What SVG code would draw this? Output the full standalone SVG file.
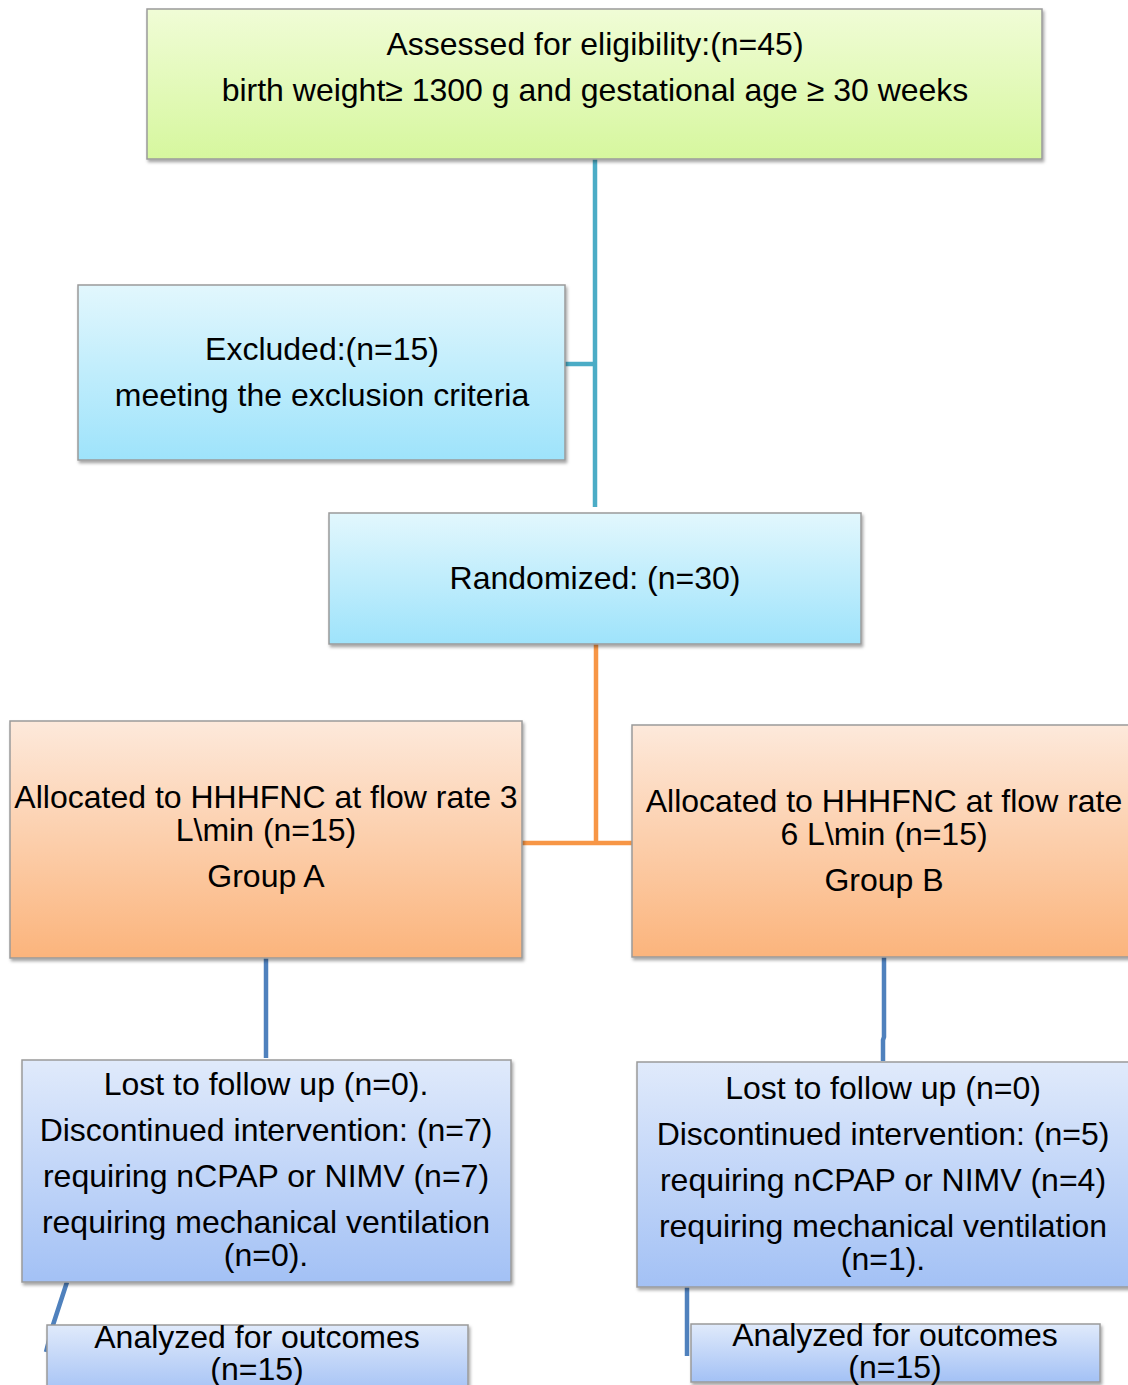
<svg xmlns="http://www.w3.org/2000/svg" width="1128" height="1385" viewBox="0 0 1128 1385">
<defs>
<linearGradient id="gGreen" x1="0" y1="0" x2="0" y2="1"><stop offset="0" stop-color="#f0fcd6"/><stop offset="1" stop-color="#d6f79e"/></linearGradient>
<linearGradient id="gCyan" x1="0" y1="0" x2="0" y2="1"><stop offset="0" stop-color="#e2f7fd"/><stop offset="1" stop-color="#9ee3fb"/></linearGradient>
<linearGradient id="gOrange" x1="0" y1="0" x2="0" y2="1"><stop offset="0" stop-color="#fde9db"/><stop offset="1" stop-color="#fbb47c"/></linearGradient>
<linearGradient id="gBlue" x1="0" y1="0" x2="0" y2="1"><stop offset="0" stop-color="#e0eafb"/><stop offset="1" stop-color="#a3c1f5"/></linearGradient>
<filter id="sh" x="-5%" y="-5%" width="110%" height="115%"><feDropShadow dx="1.5" dy="2.5" stdDeviation="1.5" flood-color="#000" flood-opacity="0.35"/></filter>
</defs>
<style>
.box{stroke:#9a9a9a;stroke-width:1.5;filter:url(#sh)}
text{font-family:"Liberation Sans",Arial,sans-serif;font-size:32px;fill:#000;text-anchor:middle}
.c1{fill:none;stroke:#4bacc6;stroke-width:4.5}
.c2{fill:none;stroke:#f79646;stroke-width:4.5}
.c3{fill:none;stroke:#4f81bd;stroke-width:4.5}
</style>
<rect width="1128" height="1385" fill="#fff"/>
<g id="connectors">
<path class="c1" d="M595 159V507M565 364H595"/>
<path class="c2" d="M596 644V845M522 843H632"/>
<path class="c3" d="M266 958V1058"/>
<path class="c3" d="M884 957V1037L883 1040V1061"/>
<path class="c3" d="M67 1282L53 1325L46 1352"/>
<path class="c3" d="M687 1287V1356"/>
</g>
<g id="assessed">
<rect class="box" x="147" y="9" width="895" height="150" fill="url(#gGreen)"/>
<text x="595" y="55">Assessed for eligibility:(n=45)</text>
<text x="595" y="101">birth weight≥ 1300 g and gestational age ≥ 30 weeks</text>
</g>
<g id="excluded">
<rect class="box" x="78" y="285" width="487" height="175" fill="url(#gCyan)"/>
<text x="322" y="360">Excluded:(n=15)</text>
<text x="322" y="406">meeting the exclusion criteria</text>
</g>
<g id="randomized">
<rect class="box" x="329" y="513" width="532" height="131" fill="url(#gCyan)"/>
<text x="595" y="589">Randomized: (n=30)</text>
</g>
<g id="groupA">
<rect class="box" x="10" y="721" width="512" height="237" fill="url(#gOrange)"/>
<text x="266" y="808">Allocated to HHHFNC at flow rate 3</text>
<text x="266" y="841">L\min (n=15)</text>
<text x="266" y="887">Group A</text>
</g>
<g id="groupB">
<rect class="box" x="632" y="725" width="510" height="232" fill="url(#gOrange)"/>
<text x="884" y="812">Allocated to HHHFNC at flow rate</text>
<text x="884" y="845">6 L\min (n=15)</text>
<text x="884" y="891">Group B</text>
</g>
<g id="lostA">
<rect class="box" x="22" y="1060" width="489" height="222" fill="url(#gBlue)"/>
<text x="266" y="1095">Lost to follow up (n=0).</text>
<text x="266" y="1141">Discontinued intervention: (n=7)</text>
<text x="266" y="1187">requiring nCPAP or NIMV (n=7)</text>
<text x="266" y="1233">requiring mechanical ventilation</text>
<text x="266" y="1266">(n=0).</text>
</g>
<g id="lostB">
<rect class="box" x="637" y="1062" width="505" height="225" fill="url(#gBlue)"/>
<text x="883" y="1099">Lost to follow up (n=0)</text>
<text x="883" y="1145">Discontinued intervention: (n=5)</text>
<text x="883" y="1191">requiring nCPAP or NIMV (n=4)</text>
<text x="883" y="1237">requiring mechanical ventilation</text>
<text x="883" y="1270">(n=1).</text>
</g>
<g id="analyzedA">
<rect class="box" x="47" y="1325" width="421" height="70" fill="url(#gBlue)"/>
<text x="257" y="1348">Analyzed for outcomes</text>
<text x="257" y="1380">(n=15)</text>
</g>
<g id="analyzedB">
<rect class="box" x="691" y="1324" width="409" height="58" fill="url(#gBlue)"/>
<text x="895" y="1346">Analyzed for outcomes</text>
<text x="895" y="1378">(n=15)</text>
</g>
</svg>
